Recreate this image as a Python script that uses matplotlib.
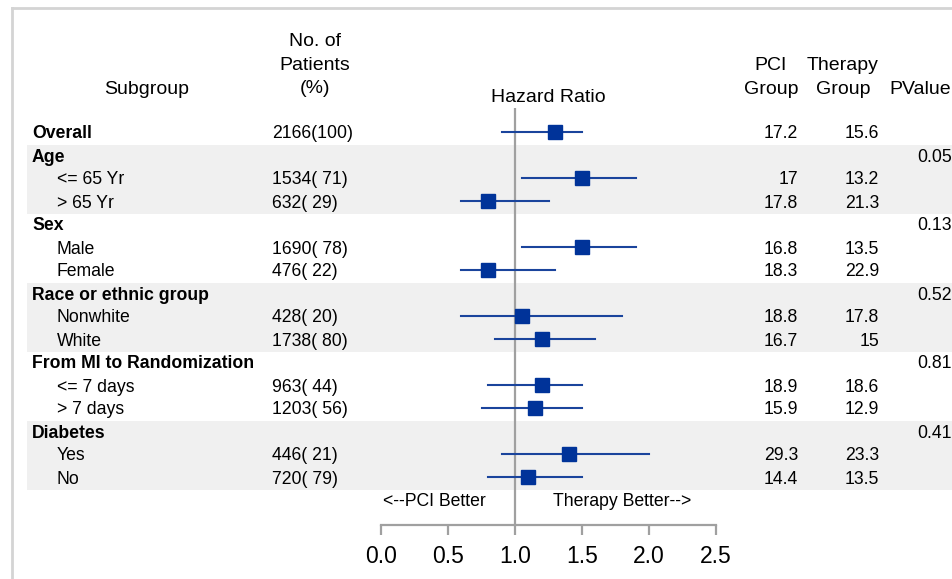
import numpy as np
import matplotlib
matplotlib.use("Agg")
import matplotlib.pyplot as plt
from matplotlib.patches import Rectangle
from matplotlib.lines import Line2D
from matplotlib.transforms import blended_transform_factory

plt.rcParams['font.family'] = ['Liberation Sans', 'DejaVu Sans']

# subgroup table
labels = ['Overall', 'Age', '<= 65 Yr', '> 65 Yr', 'Sex', 'Male', 'Female',
          'Race or ethnic group', 'Nonwhite', 'White',
          'From MI to Randomization', '<= 7 days', '> 7 days',
          'Diabetes', 'Yes', 'No']
bold = [True, True, False, False, True, False, False, True, False, False,
        True, False, False, True, False, False]
patients = ['2166(100)', '', '1534( 71)', '632( 29)', '', '1690( 78)', '476( 22)',
            '', '428( 20)', '1738( 80)', '', '963( 44)', '1203( 56)',
            '', '446( 21)', '720( 79)']
hr = [1.3, None, 1.5, 0.8, None, 1.5, 0.8, None, 1.05, 1.2, None, 1.2, 1.15,
      None, 1.4, 1.1]
hr_low = [0.9, None, 1.05, 0.6, None, 1.05, 0.6, None, 0.6, 0.85, None, 0.8, 0.75,
          None, 0.9, 0.8]
hr_high = [1.5, None, 1.9, 1.25, None, 1.9, 1.3, None, 1.8, 1.6, None, 1.5, 1.5,
           None, 2.0, 1.5]
pci = ['17.2', '', '17', '17.8', '', '16.8', '18.3', '', '18.8', '16.7', '',
       '18.9', '15.9', '', '29.3', '14.4']
therapy = ['15.6', '', '13.2', '21.3', '', '13.5', '22.9', '', '17.8', '15', '',
           '18.6', '12.9', '', '23.3', '13.5']
pvalue = ['', '0.05', '', '', '0.13', '', '', '0.52', '', '', '0.81', '', '',
          '0.41', '', '']
shaded_groups = [1, 7, 13]   # first row of each shaded block (3 rows each)
ticks = [0.0, 0.5, 1.0, 1.5, 2.0, 2.5]

W, H = 953, 579
fig = plt.figure(figsize=(W / 100, H / 100), dpi=100)

# forest panel: x 381..716 px, y 108..525 px
ax = fig.add_axes([381 / W, 1 - 525 / H, (716 - 381) / W, (525 - 108) / H])
ax.set_xlim(0, 2.5)
ax.set_ylim((525 - 132) / 23, (108 - 132) / 23)

# outer frame
fig.add_artist(Line2D([12 / W, 1], [1 - 8 / H, 1 - 8 / H], color='#d4d4d4', lw=2))
fig.add_artist(Line2D([12 / W, 12 / W], [0, 1 - 8 / H], color='#d4d4d4', lw=2))

tr = blended_transform_factory(fig.transFigure, ax.transData)

# alternating bands
for g in shaded_groups:
    ax.add_patch(Rectangle((27 / W, g - 0.45), 1 - 27 / W, 3, transform=tr,
                           facecolor='#f0f0f0', edgecolor='none',
                           clip_on=False, zorder=0))

ax.axvline(1.0, color='#a0a0a0', lw=1.6, zorder=1)

rows = np.arange(len(labels))
for i in rows:
    if hr[i] is not None:
        ax.plot([hr_low[i], hr_high[i]], [i, i], color='#1a449c', lw=1.5,
                zorder=2, clip_on=False)
        ax.plot(hr[i], i, marker='s', ms=10.5, color='#003399', zorder=3,
                clip_on=False)

VA = 'center_baseline'
body = 12.7
for i in rows:
    if bold[i]:
        ax.text(32 / W, i, labels[i], transform=tr, ha='left', va=VA,
                fontsize=body, fontweight='bold')
    else:
        ax.text(57 / W, i, labels[i], transform=tr, ha='left', va=VA,
                fontsize=body)
    ax.text(272 / W, i, patients[i], transform=tr, ha='left', va=VA,
            fontsize=body)
    ax.text(798 / W, i, pci[i], transform=tr, ha='right', va=VA,
            fontsize=body)
    ax.text(879 / W, i, therapy[i], transform=tr, ha='right', va=VA,
            fontsize=body)
    ax.text(952 / W, i, pvalue[i], transform=tr, ha='right', va=VA,
            fontsize=body)

# column headers
hdr = 14
ax.text(147 / W, -1.95, 'Subgroup', transform=tr, ha='center', va=VA, fontsize=hdr)
for k, line in enumerate(['No. of', 'Patients', '(%)']):
    ax.text(315 / W, -4 + k * 1.02, line, transform=tr, ha='center', va=VA,
            fontsize=hdr)
ax.text(0.5, (96 - 132) / 23, 'Hazard Ratio', transform=ax.get_yaxis_transform(),
        ha='center', va=VA, fontsize=hdr)
for k, line in enumerate(['PCI', 'Group']):
    ax.text(771 / W, -2.97 + k * 1.02, line, transform=tr, ha='center', va=VA,
            fontsize=hdr)
for k, line in enumerate(['Therapy', 'Group']):
    ax.text(843 / W, -2.97 + k * 1.02, line, transform=tr, ha='center', va=VA,
            fontsize=hdr)
ax.text(920 / W, -1.95, 'PValue', transform=tr, ha='center', va=VA, fontsize=hdr)

# direction labels
ax.text(434 / W, 16, '<--PCI Better', transform=tr, ha='center', va=VA,
        fontsize=body)
ax.text(622 / W, 16, 'Therapy Better-->', transform=tr, ha='center',
        va=VA, fontsize=body)

for side in ['left', 'right', 'top']:
    ax.spines[side].set_visible(False)
ax.spines['bottom'].set_color('#a0a0a0')
ax.spines['bottom'].set_linewidth(1.6)
ax.set_xticks(ticks)
ax.set_xticklabels(['%.1f' % t for t in ticks])
ax.tick_params(axis='x', direction='out', length=7.5, width=1.6, color='#a0a0a0',
               labelsize=16.5, pad=7)
ax.set_yticks([])
ax.patch.set_visible(False)

fig.savefig('out.png', dpi=100)
